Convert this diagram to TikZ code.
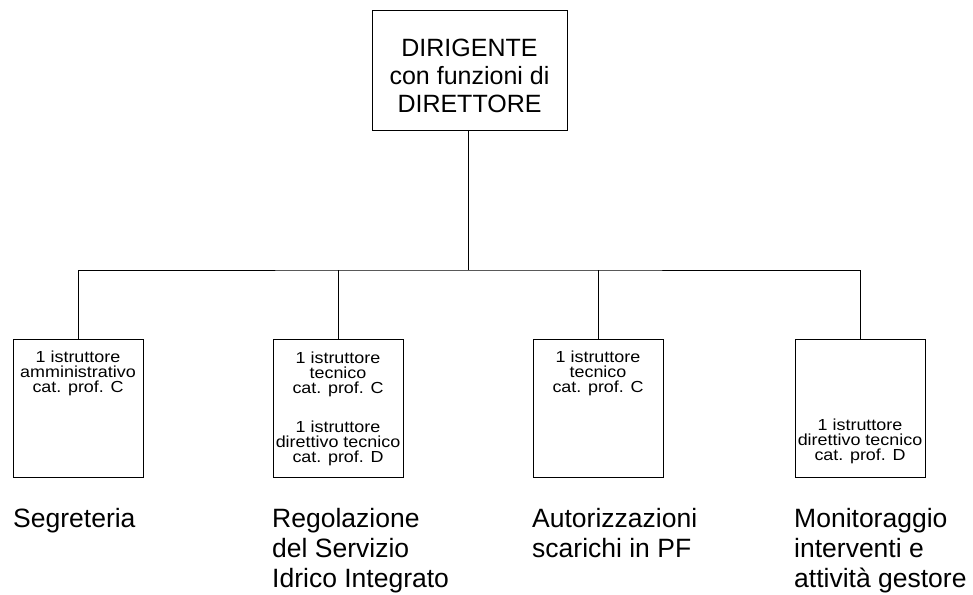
\documentclass[tikz,border=0pt]{standalone}
\usepackage{fontspec}
\setmainfont{Liberation Sans}
\newfontfamily\widefont[FakeStretch=1.12]{Liberation Sans}
\begin{document}
\begin{tikzpicture}[x=1pt,y=-1pt,
  box/.style={draw,line width=1pt,minimum width=130pt,minimum height=138pt,inner sep=0pt},
  topbox/.style={draw,line width=1pt,minimum width=195pt,minimum height=120pt,inner sep=0pt},
  small/.style={font={\widefont\fontsize{16}{15}\selectfont},align=center,inner sep=0pt,anchor=base},
  big/.style={font={\fontsize{25}{28}\selectfont},align=center,inner sep=0pt,anchor=base},
  lab/.style={font={\fontsize{26.5}{30}\selectfont},align=left,inner sep=0pt,anchor=base west},
  conn/.style={line width=1pt}]
\useasboundingbox (0,0) rectangle (973,594);
\node[topbox] (top) at (469.5,70.5) {};
\node[big] (toptxt) at (469.5,112) {DIRIGENTE\\con funzioni di\\DIRETTORE};
\node[box] (b1) at (78,408) {};
\node[box] (b2) at (338,408) {};
\node[box] (b3) at (598,408) {};
\node[box] (b4) at (860,408) {};
\node[small] (t1) at (78,392.5) {1 istruttore\\amministrativo\\cat. prof. C};
\node[small] (t2) at (338,462) {1 istruttore\\tecnico\\cat. prof. C\\[24pt]1 istruttore\\direttivo tecnico\\cat. prof. D};
\node[small] (t3) at (598,392.5) {1 istruttore\\tecnico\\cat. prof. C};
\node[small] (t4) at (860,460) {1 istruttore\\direttivo tecnico\\cat. prof. D};
\node[lab] (l1) at (13,527) {Segreteria};
\node[lab] (l2) at (272,587) {Regolazione\\del Servizio\\Idrico Integrato};
\node[lab] (l3) at (532,557) {Autorizzazioni\\scarichi in PF};
\node[lab] (l4) at (794,587) {Monitoraggio\\interventi e\\attività gestore};
\coordinate (j) at (468,270);
\draw[conn] (top.south -| j) -- (j);
\draw[conn] (b1.north) |- (j) -| (b4.north);
\draw[conn] (b2.north) -- (b2.north |- j);
\draw[conn] (b3.north) -- (b3.north |- j);
\end{tikzpicture}
\end{document}
